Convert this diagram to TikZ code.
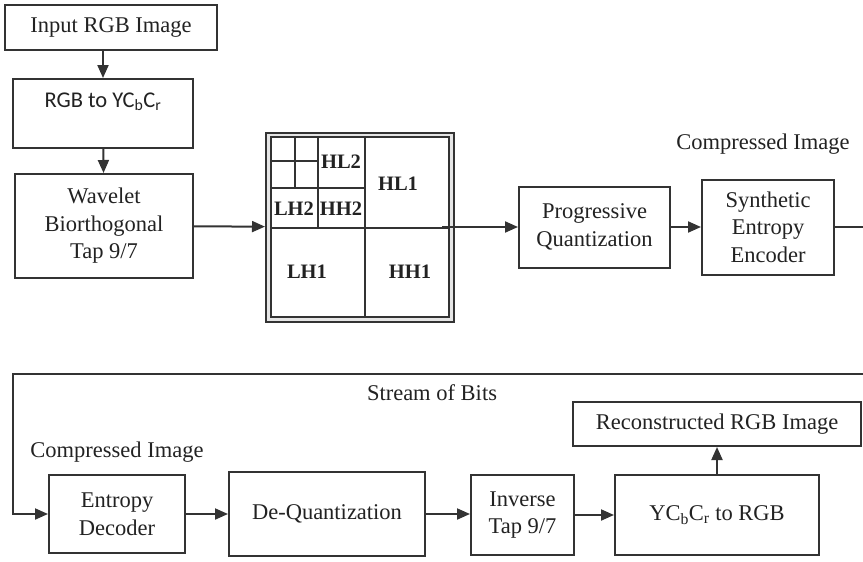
\documentclass[tikz,border=0pt]{standalone}
\usepackage{fontspec}
\setmainfont{Liberation Serif}
\newfontfamily\calfont{Carlito}
\usetikzlibrary{arrows.meta,positioning,calc}
\definecolor{linec}{HTML}{333333}
\definecolor{textc}{HTML}{222222}

\begin{document}
\begin{tikzpicture}[x=1pt, y=-1pt, every node/.style={font=\fontsize{22.5}{27.5}\selectfont, text=textc},
  box/.style={draw=linec, line width=2pt, align=center, inner sep=0pt, fill=white},
  arr/.style={-{Triangle[length=13pt,width=11pt]}, line width=2pt, draw=linec},
  band/.style={font=\fontsize{20.5}{22}\selectfont\bfseries},
  grid/.style={line width=1.8pt, draw=linec}]
\useasboundingbox (0,0) rectangle (863,562);
% coding chain
\node[box, minimum width=212pt, minimum height=45pt] (inp) at (111,27.5) {Input RGB Image};
\node[box, minimum width=180pt, minimum height=69pt] (rgb) at (103,113.5) {\calfont RGB to YC\textsubscript{b}C\textsubscript{r}\\ \mbox{}};
\node[box, minimum width=178pt, minimum height=104pt] (wav) at (104,226) {Wavelet\\Biorthogonal\\Tap 9/7};
\node[box, fill=gray!20, line width=2pt, minimum width=188pt, minimum height=189pt] (sub) at (360,227) {};
\node[box, minimum width=151pt, minimum height=81pt] (pq) at (594.5,227) {Progressive\\Quantization};
\node[box, minimum width=132pt, minimum height=95pt] (see) at (768,227) {Synthetic\\Entropy\\Encoder};
\node (cmp1) at (763,144) {Compressed Image};
\coordinate (edge) at (863,227);
% subbands
\draw[grid, fill=white] (271,137) rectangle (449,317);
\draw[grid] (365,137) -- (365,317) (271,228) -- (449,228)
  (318,137) -- (318,228) (271,188) -- (365,188)
  (295,137) -- (295,188) (271,161) -- (318,161);
\node[band] (hl2) at (341,162) {HL2};
\node[band] (hl1) at (398,184) {HL1};
\node[band] (lh2) at (294,209) {LH2};
\node[band] (hh2) at (341,209) {HH2};
\node[band] (lh1) at (307,272) {LH1};
\node[band] (hh1) at (410,272) {HH1};
\coordinate (out) at (442,227);
\draw[arr] (inp.south -| rgb.north) -- (rgb.north);
\draw[arr] (rgb) -- (wav);
\draw[arr] (wav) -- (sub);
\draw[arr] (out) -- (pq);
\draw[arr] (pq) -- (see);
\draw[line width=2pt, draw=linec] (see) -- (edge);
% decoding chain
\node[box, minimum width=136pt, minimum height=78pt] (ed) at (117,514) {Entropy\\Decoder};
\node[box, minimum width=196pt, minimum height=84pt] (dq) at (327,514) {De-Quantization};
\node[box, minimum width=103pt, minimum height=80pt] (inv) at (522.5,515) {Inverse\\Tap 9/7};
\node[box, minimum width=204pt, minimum height=80pt] (ycc) at (717,515) {YC\textsubscript{b}C\textsubscript{r} to RGB};
\node[box, minimum width=288pt, minimum height=44pt] (rec) at (717,424) {Reconstructed RGB Image};
\node (bits) at (432,393) {Stream of Bits};
\node (cmp2) at (117,452) {Compressed Image};
\coordinate (top) at (863,374);
\draw[arr] (top) -- (13,374) |- (ed.west);
\draw[arr] (ed) -- (dq);
\draw[arr] (dq) -- (dq.east -| inv.west);
\draw[arr] (inv) -- (ycc);
\draw[arr] (ycc) -- (rec);
\end{tikzpicture}
\end{document}
